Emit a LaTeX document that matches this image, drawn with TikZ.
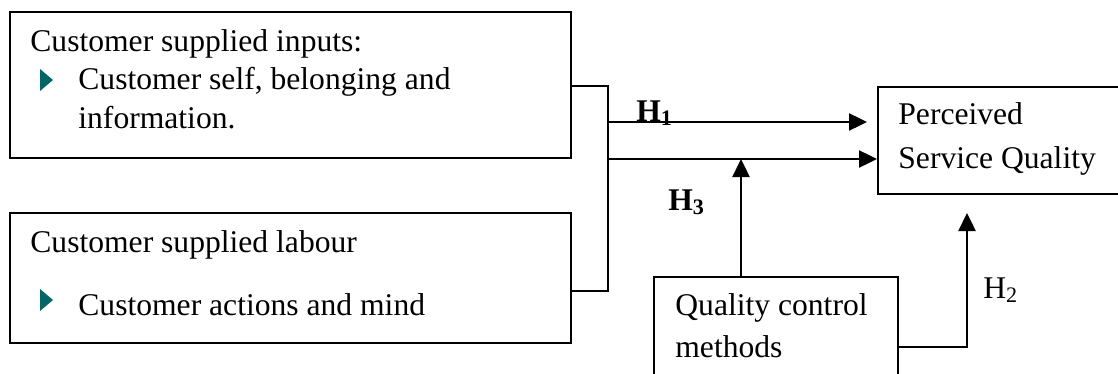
\documentclass[tikz,border=0pt]{standalone}
\usepackage{fontspec}
\setmainfont{Liberation Serif}
\usetikzlibrary{arrows.meta}
\definecolor{bullet}{RGB}{0,102,102}
\tikzset{
  box/.style={draw, line width=1pt, inner sep=0pt, anchor=north west},
  txt/.style={anchor=base west, inner sep=0pt, font=\fontsize{15.8pt}{19pt}\selectfont},
  lbl/.style={anchor=base west, inner sep=0pt, font=\fontsize{15.8pt}{19pt}\selectfont},
  link/.style={line width=1.2pt},
  arr/.style={line width=1.2pt, -{Triangle[length=9pt,width=8.5pt]}},
  tri/.style={fill=bullet, draw=none}
}
\begin{document}
\begin{tikzpicture}[x=0.5pt, y=-0.5pt]
  \useasboundingbox (0,0) rectangle (1118,374);
  \clip (0,0) rectangle (1118,374);

  % input boxes
  \node[box, minimum width=561*0.5pt, minimum height=146*0.5pt] (b1) at (9,11) {};
  \node[box, minimum width=561*0.5pt, minimum height=130*0.5pt] (b2) at (9,212) {};
  % outcome and moderator boxes (run past the frame)
  \node[box, minimum width=300*0.5pt, minimum height=107*0.5pt] (psq) at (877,86) {};
  \node[box, minimum width=244*0.5pt, minimum height=140*0.5pt] (qcm) at (653,276) {};

  % box texts
  \node[txt] (t1a) at (30,52) {Customer supplied inputs:};
  \node[txt] (t1b) at (78,90) {Customer self, belonging and};
  \node[txt] (t1c) at (78,128) {information.};
  \node[txt] (t2a) at (30,252) {Customer supplied labour};
  \node[txt] (t2b) at (78,315) {Customer actions and mind};
  \node[txt] (t3a) at (898,125) {Perceived};
  \node[txt] (t3b) at (898,168) {Service Quality};
  \node[txt] (t4a) at (675,315) {Quality control};
  \node[txt] (t4b) at (675,357) {methods};

  % bullets
  \fill[tri] (40,69) -- (53,80) -- (40,91) -- cycle;
  \fill[tri] (40,289) -- (53,300) -- (40,311) -- cycle;

  % joining bus of the two input boxes
  \coordinate (busT) at (608,86);
  \coordinate (busB) at (608,291);
  \draw[link] (b1.east |- busT) -- (busT) -- (busB) -- (b2.east |- busB);

  % H1 and the moderated path
  \coordinate (h1s) at (608,122);
  \coordinate (h1e) at (867,122);
  \draw[arr] (h1s) -- (h1e);
  \coordinate (h3s) at (608,159);
  \draw[arr] (h3s) -- (h3s -| psq.west);

  % H3: moderator onto the path
  \coordinate (m) at (741,159);
  \draw[arr] (qcm.north -| m) -- (m);

  % H2: moderator to outcome
  \coordinate (h2c) at (967,347);
  \coordinate (h2e) at (967,213);
  \draw[arr] (qcm.east |- h2c) -- (h2c) -- (h2e);

  % labels
  \node[lbl] (H1) at (636,121) {\textbf{H\textsubscript{1}}};
  \node[lbl] (H3) at (668,210) {\textbf{H\textsubscript{3}}};
  \node[lbl] (H2) at (983,298) {H\textsubscript{2}};
\end{tikzpicture}
\end{document}
